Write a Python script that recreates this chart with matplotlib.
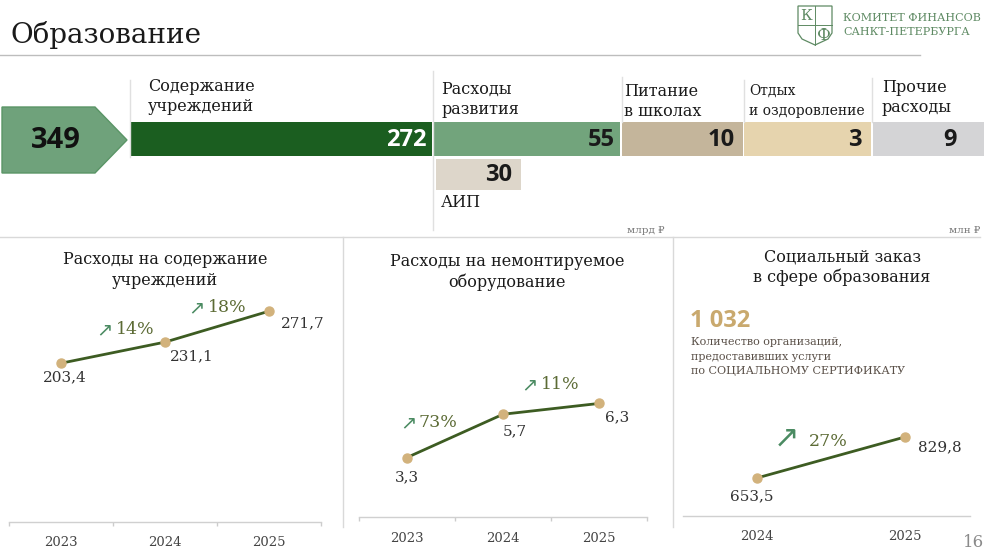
import numpy as np
import matplotlib.pyplot as plt
from matplotlib.patches import Polygon

W, H = 990, 557
SERIF = ['DejaVu Serif', 'DejaVu Sans']
SANS = ['Open Sans', 'DejaVu Sans']

# --- data ---
total = 349
seg_names = ["Содержание\nучреждений", "Расходы\nразвития", "Питание\nв школах",
             "Отдых\nи оздоровление", "Прочие\nрасходы"]
seg_values = [272, 55, 10, 3, 9]
aip_name = "АИП"
aip_value = 30

years1 = ["2023", "2024", "2025"]
upkeep = [203.4, 231.1, 271.7]
upkeep_pct = ["14%", "18%"]

years2 = ["2023", "2024", "2025"]
equip = [3.3, 5.7, 6.3]
equip_pct = ["73%", "11%"]

years3 = ["2024", "2025"]
social = [653.5, 829.8]
social_pct = ["27%"]
social_orgs = "1 032"
social_note = ["Количество организаций,", "предоставивших услуги",
               "по СОЦИАЛЬНОМУ СЕРТИФИКАТУ"]

# --- layout / styles (pixels) ---
seg_left = [130, 434, 622, 744, 873]
seg_right = [432, 620, 743, 871, 984]
seg_pad = [5, 5, 8, 9, 27]
seg_colors = ['#1b5e20', '#72a47c', '#c4b59b', '#e6d4ae', '#d4d4d6']
seg_txt = ['white', '#1a1a1a', '#1a1a1a', '#1a1a1a', '#1a1a1a']
seg_lbl_x = [148, 441, 624, 749, 882]
seg_lbl_y = [91, 94, 96, 95, 92]
seg_lbl_fs = [11.5, 11.5, 11.5, 10, 11.5]

LINE = '#3d5c22'
DOT = '#d2b27c'
ARROW = '#4b8b62'
PCT = '#5c6b35'
VAL = '#333333'
SEP = '#d9d9d9'

fig = plt.figure(figsize=(W / 100, H / 100), dpi=100)
bg = fig.add_axes([0, 0, 1, 1])
bg.set_xlim(0, W)
bg.set_ylim(H, 0)
bg.axis('off')

# header
bg.text(10, 43, "Образование", fontsize=20, family=SERIF, color='#1a1a1a', va='baseline')
bg.plot([0, 920], [55, 55], color='#bdbdbd', lw=1)

# logo
logo_c = '#5e8a63'
bg.add_patch(Polygon([(798, 6), (832, 6), (832, 33), (828, 39), (815, 45), (802, 39), (798, 33)],
                     closed=True, fill=False, ec=logo_c, lw=0.9))
bg.plot([815, 815], [6, 45], color=logo_c, lw=0.7)
bg.plot([798, 832], [25, 25], color=logo_c, lw=0.7)
bg.text(806, 16, "К", fontsize=11, family=SERIF, color=logo_c, ha='center', va='center')
bg.text(824, 35, "Ф", fontsize=12, family=SERIF, color=logo_c, ha='center', va='center')
bg.text(843, 21, "КОМИТЕТ ФИНАНСОВ", fontsize=8, family=SERIF, color=logo_c, va='baseline')
bg.text(843, 35, "САНКТ-ПЕТЕРБУРГА", fontsize=8, family=SERIF, color=logo_c, va='baseline')

# total arrow
bg.add_patch(Polygon([(2, 107), (95, 107), (127, 140), (95, 173), (2, 173)],
                     closed=True, fc='#6fa27b', ec='#5a9566', lw=1))
bg.text(56, 141, str(total), fontsize=21, weight='bold', family=SANS, color='#111111',
        ha='center', va='center')

# separators of the top block
for x, y0, y1 in [(130, 80, 157), (433, 71, 230), (622, 77, 122), (744, 80, 122), (872, 78, 122)]:
    bg.plot([x, x], [y0, y1], color='#e0e0e0', lw=1)

# segment bars
widths = [r - l for l, r in zip(seg_left, seg_right)]
bg.barh([139] * len(seg_values), widths, left=seg_left, height=34, color=seg_colors)
for i, v in enumerate(seg_values):
    bg.text(seg_right[i] - seg_pad[i], 140, str(v), fontsize=17, weight='bold', family=SANS,
            color=seg_txt[i], ha='right', va='center')
    for k, line in enumerate(seg_names[i].split("\n")):
        bg.text(seg_lbl_x[i], seg_lbl_y[i] + k * 20, line, fontsize=seg_lbl_fs[i],
                family=SERIF, color='#1a1a1a', va='baseline')

bg.barh([174.5], [85], left=[436], height=31, color='#ddd6ca')
bg.text(512, 175, str(aip_value), fontsize=17, weight='bold', family=SANS, color='#1a1a1a',
        ha='right', va='center')
bg.text(441, 207, aip_name, fontsize=11.5, family=SERIF, color='#1a1a1a', va='baseline')

bg.text(627, 233, "млрд ₽", fontsize=7.5, family=SERIF, color='#777777', va='baseline')
bg.text(980, 233, "млн ₽", fontsize=7.5, family=SERIF, color='#777777', va='baseline', ha='right')

# panel separators
bg.plot([0, 980], [237, 237], color=SEP, lw=1)
bg.plot([343, 343], [237, 527], color=SEP, lw=1)
bg.plot([673, 673], [237, 527], color=SEP, lw=1)

# panel titles
titles = [(165, [264, 285], ["Расходы на содержание", "учреждений"]),
          (507, [266, 287], ["Расходы на немонтируемое", "оборудование"]),
          (842, [262, 282], ["Социальный заказ", "в сфере образования"])]
for cx, ys, lines in titles:
    for y, t in zip(ys, lines):
        bg.text(cx, y, t, fontsize=11.5, family=SERIF, color='#1a1a1a', ha='center', va='baseline')

# social block text
bg.text(690, 327, social_orgs, fontsize=17, weight='bold', family=SANS, color='#c9a96e', va='baseline')
for k, t in enumerate(social_note):
    bg.text(691, 345 + k * 14.5, t, fontsize=8, family=SERIF, color='#5a5048', va='baseline')

bg.text(963, 547, "16", fontsize=12, family=SERIF, color='#8a8a8a', va='baseline')


def px_axes(left, top, right, bottom):
    return fig.add_axes([left / W, 1 - bottom / H, (right - left) / W, (bottom - top) / H])


def line_panel(ax, years, vals, xlim, ylim, boundary_ticks, pad):
    x = np.arange(len(years))
    ax.plot(x, vals, color=LINE, lw=2, marker='o', ms=6.5, mfc=DOT, mec=DOT, zorder=3,
            clip_on=False)
    ax.set_xlim(*xlim)
    ax.set_ylim(*ylim)
    ax.set_facecolor('none')
    for s in ['top', 'left', 'right']:
        ax.spines[s].set_visible(False)
    ax.spines['bottom'].set_color('#d0d0d0')
    ax.spines['bottom'].set_linewidth(1)
    ax.set_yticks([])
    ax.set_xticks(x)
    ax.set_xticklabels(years, fontsize=9.5, family=SERIF, color='#444444')
    ax.tick_params(axis='x', which='major', length=0, pad=pad)
    if boundary_ticks:
        ax.set_xticks(np.arange(len(years) + 1) - 0.5, minor=True)
        ax.tick_params(axis='x', which='minor', length=3, color='#cccccc', width=1)


def value_labels(ax, vals, offsets):
    for i, (v, off) in enumerate(zip(vals, offsets)):
        ax.annotate(f"{v:.1f}".replace('.', ','), (i, v), xytext=off, textcoords='offset pixels',
                    fontsize=11, family=SERIF, color=VAL, ha='center', va='center',
                    annotation_clip=False)


def pct_labels(ax, vals, pcts, arrow_off, text_off, asize=14, tsize=12.5):
    for i, p in enumerate(pcts):
        mid = (i + 0.5, (vals[i] + vals[i + 1]) / 2)
        ax.annotate("↗", mid, xytext=arrow_off[i], textcoords='offset pixels', fontsize=asize,
                    family=['DejaVu Sans'], color=ARROW, ha='center', va='center',
                    annotation_clip=False)
        ax.annotate(p, mid, xytext=text_off[i], textcoords='offset pixels', fontsize=tsize,
                    family=SERIF, color=PCT, ha='left', va='center', annotation_clip=False)


# panel 1
ax1 = px_axes(9, 234, 321, 522)
line_panel(ax1, years1, upkeep, (-0.5, 2.5), (-5, 373), True, 10)
value_labels(ax1, upkeep, [(4, -14), (27, -14), (34, -12)])
pct_labels(ax1, upkeep, upkeep_pct, [(-9, 23), (-21, 19)], [(3, 23), (-9, 19)])

# panel 2
ax2 = px_axes(359, 234, 647, 517)
line_panel(ax2, years2, equip, (-0.5, 2.5), (0, 15.7), True, 11)
value_labels(ax2, equip, [(0, -20), (12, -17), (18, -14)])
pct_labels(ax2, equip, equip_pct, [(-47, 13), (-22, 24)], [(-37, 13), (-10, 24)])

# panel 3
ax3 = px_axes(683, 234, 970, 516)
line_panel(ax3, years3, social, (-0.5, 1.44), (490, 1703), False, 10)
value_labels(ax3, social, [(-5, -18), (35, -10)])
pct_labels(ax3, social, social_pct, [(-44, 19)], [(-22, 16)], asize=22, tsize=12.5)

fig.savefig("out.png", dpi=100)
